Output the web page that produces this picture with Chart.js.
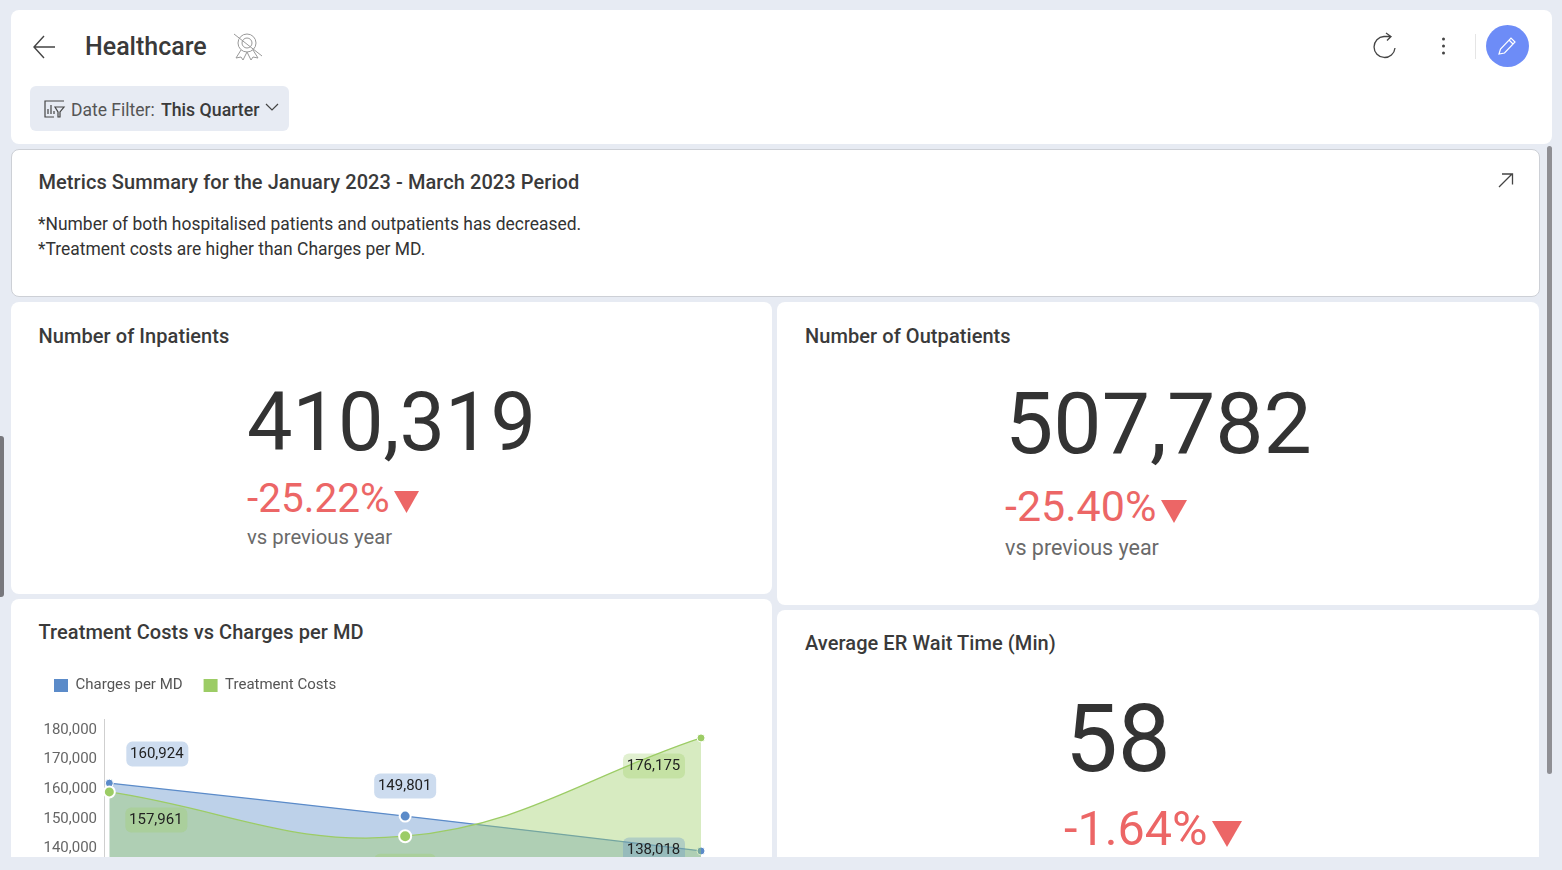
<!DOCTYPE html>
<html>
<head>
<meta charset="utf-8">
<title>Healthcare</title>
<script src="https://cdn.jsdelivr.net/npm/chart.js@4/dist/chart.umd.min.js"></script>
<style>
  html, body { margin: 0; padding: 0; width: 1562px; height: 870px; overflow: hidden; background: #e7ebf3; font-family: Roboto, sans-serif; color: #343434; }
  .card { position: absolute; background: #fff; border-radius: 8px; overflow: hidden; }
  .t { position: absolute; white-space: nowrap; line-height: 1; }
  .title { font-size: 20px; font-weight: 500; letter-spacing: 0.07px; color: #3a3a3a; }
  .kpi { color: #333; font-weight: 400; }
  .delta { color: #ec6666; }
  .sub { color: #6a6a6a; font-size: 20.300px; }
  svg { position: absolute; }
  #costChart { position: absolute; left: 0; top: 58px; }
</style>
</head>
<body>

<!-- header -->
<div class="card" style="left:11px;top:10px;width:1541px;height:134px"></div>
<svg style="left:31px;top:33px" width="28" height="28" fill="none" stroke="#444" stroke-width="1.4"><path d="M24 14H3M13 3 3 14l10 11"/></svg>
<div class="t" style="left:85px;top:34px;font-size:25px;font-weight:500;color:#3a3a3a">Healthcare</div>
<svg style="left:232px;top:31px" width="32" height="32" fill="none" stroke="#999" stroke-width="1"><circle cx="15" cy="12" r="9"/><circle cx="15" cy="12" r="5"/><path d="M9 19 4 27l5-1 2 3 4-8 4 8 2-3 5 1-5-8M2 3l28 22"/></svg>
<div style="position:absolute;left:30px;top:86px;width:259px;height:45px;background:#e7ebf3;border-radius:6px"></div>
<svg style="left:44px;top:99px" width="22" height="20" fill="none" stroke="#444" stroke-width="1.2"><path d="M20 2H1v16h9M4 15V10M7 15V6M10 15v-3M11 8h9l-4 5v5h-2v-5z"/></svg>
<div class="t" style="left:71px;top:102px;font-size:17.500px;color:#555">Date Filter:</div>
<div class="t" style="left:161px;top:102px;font-size:17.700px;font-weight:500;color:#3a3a3a">This Quarter</div>
<svg style="left:265px;top:102px" width="16" height="12" fill="none" stroke="#444" stroke-width="1.2"><path d="M1 2l6 6 6-6"/></svg>
<svg style="left:1372px;top:31px" width="30" height="30" fill="none" stroke="#444" stroke-width="1.3"><path d="M23 17a10.500 10.500 0 1 1-11-11.500h7M14 2l5 3.500-4 4"/></svg>
<svg style="left:1438px;top:36px" width="12" height="20" fill="#444"><circle cx="5.500" cy="3" r="1.500"/><circle cx="5.500" cy="10" r="1.500"/><circle cx="5.500" cy="17" r="1.500"/></svg>
<div style="position:absolute;left:1475px;top:34px;width:1px;height:25px;background:#e5e5e5"></div>
<div style="position:absolute;left:1486px;top:25px;width:43px;height:42px;background:#6d8cf7;border-radius:50%"></div>
<svg style="left:1497px;top:35px" width="22" height="22" fill="none" stroke="#fff" stroke-width="1.200"><path d="M2 19l1.500-5L14 3l4 4L7.500 18zM12 5l4 4"/></svg>

<!-- summary -->
<div class="card" style="left:11px;top:149px;width:1527px;height:146px;border:1px solid #cdd0d6"></div>
<div class="t title" style="left:38.500px;top:172px">Metrics Summary for the January 2023 - March 2023 Period</div>
<svg style="left:1496px;top:171px" width="20" height="20" fill="none" stroke="#444" stroke-width="1.300"><path d="M3 16 16 3M6 3h10.500v10.500"/></svg>
<div class="t" style="left:38px;top:216px;font-size:17.450px;color:#333">*Number of both hospitalised patients and outpatients has decreased.</div>
<div class="t" style="left:38px;top:241px;font-size:17.450px;color:#333">*Treatment costs are higher than Charges per MD.</div>

<!-- inpatients -->
<div class="card" style="left:11px;top:302px;width:761px;height:292px"></div>
<div class="t title" style="left:38.500px;top:326px">Number of Inpatients</div>
<div class="t kpi" style="left:247px;top:382px;font-size:81px">410,319</div>
<div class="t delta" style="left:247px;top:478px;font-size:40.500px">-25.22%</div>
<svg style="left:394px;top:491px" width="26" height="22" fill="#ec6666"><path d="M0 0h25L12.500 22z"/></svg>
<div class="t sub" style="left:247px;top:527px">vs previous year</div>

<!-- outpatients -->
<div class="card" style="left:777px;top:302px;width:762px;height:303px"></div>
<div class="t title" style="left:805px;top:326px">Number of Outpatients</div>
<div class="t kpi" style="left:1005px;top:381px;font-size:86px">507,782</div>
<div class="t delta" style="left:1005px;top:485px;font-size:43px">-25.40%</div>
<svg style="left:1161px;top:500px" width="27" height="23" fill="#ec6666"><path d="M0 0h26L13 23z"/></svg>
<div class="t sub" style="left:1005px;top:537px;font-size:21.500px">vs previous year</div>

<!-- chart card -->
<div class="card" style="left:11px;top:599px;width:761px;height:258px;border-radius:8px 8px 0 0">
  <canvas id="costChart" width="761" height="335"></canvas>
</div>
<div class="t title" style="left:38.500px;top:622px">Treatment Costs vs Charges per MD</div>

<!-- wait time -->
<div class="card" style="left:777px;top:610px;width:762px;height:247px;border-radius:8px 8px 0 0"></div>
<div class="t title" style="left:805px;top:633px">Average ER Wait Time (Min)</div>
<div class="t kpi" style="left:1065px;top:692px;font-size:94px">58</div>
<div class="t delta" style="left:1064px;top:805px;font-size:48.500px">-1.64%</div>
<svg style="left:1212px;top:821px" width="31" height="26" fill="#ec6666"><path d="M0 0h30L15 26z"/></svg>

<!-- scrollbars -->
<div style="position:absolute;left:1547px;top:146px;width:5px;height:628px;background:#8f8f94;border-radius:3px"></div>
<div style="position:absolute;left:0;top:436px;width:4px;height:161px;background:#77777c;border-radius:0 3px 3px 0"></div>

<script>
const categories = [0, 1, 2];
const monthNames = ["Jan 2023", "Feb 2023", "Mar 2023"];
const chargesPerMd = [160924, 149801, 138018];
const treatmentCosts = [157961, 143000, 176175];
const yTicks = [100000, 110000, 120000, 130000, 140000, 150000, 160000, 170000, 180000];

const BLUE = "#5b8bc9";
const GREEN = "#9ccc65";

// where each value badge sits relative to its point (dx, dy)
const chargesBadge = [[48, -29], [0, -30], [-47, -1]];
const treatmentBadge = [[47, 28], [0, 30], [-47, 28]];

const badgePlugin = {
  id: "badges",
  afterDatasetsDraw(chart) {
    const ctx = chart.ctx;
    const sets = [
      { idx: 0, vals: chargesPerMd, off: chargesBadge, bg: "rgba(91,139,201,0.30)" },
      { idx: 1, vals: treatmentCosts, off: treatmentBadge, bg: "rgba(156,204,101,0.30)" }
    ];
    sets.forEach(s => {
      const pts = chart.getDatasetMeta(s.idx).data;
      pts.forEach((p, i) => {
        const cx = p.x + s.off[i][0];
        const cy = p.y + s.off[i][1];
        ctx.save();
        ctx.fillStyle = s.bg;
        ctx.beginPath();
        ctx.roundRect(cx - 31, cy - 12.5, 62, 25, 6);
        ctx.fill();
        ctx.fillStyle = "#222";
        ctx.font = "15px Roboto, sans-serif";
        ctx.textAlign = "center";
        ctx.textBaseline = "middle";
        ctx.fillText(s.vals[i].toLocaleString("en-US"), cx - 0.5, cy + 0.5);
        ctx.restore();
      });
    });
  }
};

// extra room between legend and plot
const legendSpace = {
  id: "legendSpace",
  beforeInit(chart) {
    const fit = chart.legend.fit;
    chart.legend.fit = function () {
      fit.bind(this)();
      this.height += 16.5;
    };
  }
};

const toXY = vals => vals.map((v, i) => ({ x: categories[i], y: v }));

new Chart(document.getElementById("costChart"), {
  type: "line",
  data: {
    datasets: [
      {
        label: "Charges per MD",
        data: toXY(chargesPerMd),
        order: 2,
        borderColor: BLUE,
        borderWidth: 1.3,
        backgroundColor: "rgba(91,139,201,0.40)",
        fill: "start",
        tension: 0.4,
        clip: false,
        pointBackgroundColor: BLUE,
        pointBorderColor: "#fff",
        pointBorderWidth: [1, 2, 1],
        pointRadius: [4, 5.5, 4]
      },
      {
        label: "Treatment Costs",
        data: toXY(treatmentCosts),
        order: 1,
        borderColor: GREEN,
        borderWidth: 1.3,
        backgroundColor: "rgba(156,204,101,0.40)",
        fill: "start",
        tension: 0.4,
        clip: false,
        pointBackgroundColor: GREEN,
        pointBorderColor: "#fff",
        pointBorderWidth: [2, 2, 1],
        pointRadius: [5.5, 6, 4]
      }
    ]
  },
  options: {
    responsive: false,
    animation: false,
    layout: { padding: { left: 22, right: 71, top: 0, bottom: 0 } },
    plugins: {
      tooltip: { enabled: false },
      legend: {
        align: "start",
        labels: {
          boxWidth: 14,
          boxHeight: 13,
          padding: 21,
          color: "#555",
          font: { family: "Roboto, sans-serif", size: 15 },
          generateLabels: chart => chart.data.datasets.map((d, i) => ({
            text: d.label,
            fillStyle: d.borderColor,
            strokeStyle: d.borderColor,
            lineWidth: 0,
            datasetIndex: i,
            fontColor: "#555"
          }))
        }
      }
    },
    scales: {
      x: {
        type: "linear",
        min: -0.018,
        max: 2,
        grid: { display: false },
        border: { display: false },
        ticks: { stepSize: 1, maxRotation: 0, callback: v => monthNames[v] || "" }
      },
      y: {
        min: 100000,
        max: 182400,
        afterFit: s => { s.width = 71; },
        afterBuildTicks: s => { s.ticks = yTicks.map(v => ({ value: v })); },
        grid: { display: false, tickLength: 0 },
        border: { display: true, color: "#cfcfcf", width: 1 },
        ticks: {
          autoSkip: false,
          padding: 7,
          color: "#666",
          // empty first line pushes the label down half a lineHeight
          font: { family: "Roboto, sans-serif", size: 15, lineHeight: "7px" },
          callback: v => ["", v.toLocaleString("en-US")]
        }
      }
    }
  },
  plugins: [badgePlugin, legendSpace]
});
</script>
</body>
</html>
